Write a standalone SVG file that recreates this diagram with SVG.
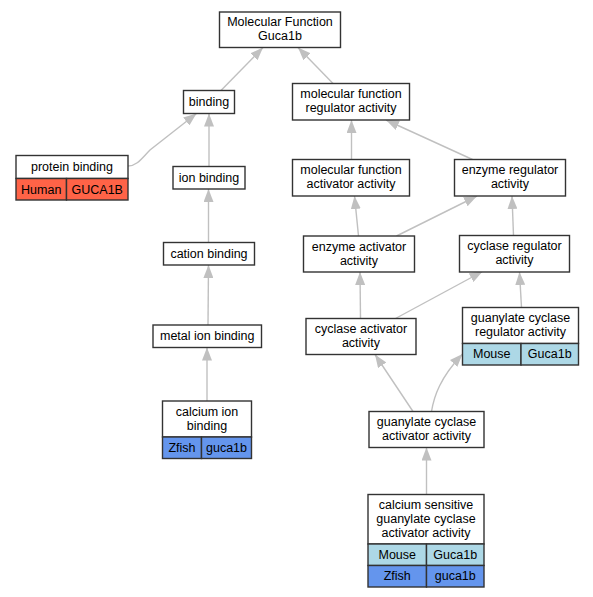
<svg xmlns="http://www.w3.org/2000/svg" width="593" height="597" viewBox="0 0 593 597">
<defs>
<marker id="arr" viewBox="0 0 13 10" refX="13" refY="5" markerWidth="13" markerHeight="10" markerUnits="userSpaceOnUse" orient="auto">
<path d="M0,0 L13,5 L0,10 z" fill="#c0c0c0"/>
</marker>
</defs>
<style>
.box{fill:#ffffff;stroke:#333333;stroke-width:1.4}
.cell{stroke:#333333;stroke-width:1.4}
.human{fill:#ff6347}
.mouse{fill:#add8e6}
.zfish{fill:#6495ed}
text{font-family:"Liberation Sans",Arial,sans-serif;font-size:12.5px;fill:#000000;text-anchor:middle}
.edge{fill:none;stroke:#c0c0c0;stroke-width:1.4;marker-end:url(#arr)}
</style>
<rect width="593" height="597" fill="#ffffff"/>
<g id="edges">
<path class="edge" d="M221,90.5 L263,47.5"/>
<path class="edge" d="M333,83.5 L298,47.5"/>
<path class="edge" d="M128,166 C137,166 142,158 150,150 L196.5,113.5"/>
<path class="edge" d="M209,166.5 L209,113.5"/>
<path class="edge" d="M208.5,242.5 L208.5,189"/>
<path class="edge" d="M208,325 L208.5,265"/>
<path class="edge" d="M207,401 L207,347.5"/>
<path class="edge" d="M351.5,159.5 L351.5,120"/>
<path class="edge" d="M472.5,159.5 L386,120"/>
<path class="edge" d="M358.5,236 L354.5,196"/>
<path class="edge" d="M396.5,236 L477,196"/>
<path class="edge" d="M513.5,235.5 L512,196"/>
<path class="edge" d="M360.5,318.5 L360,272"/>
<path class="edge" d="M395.5,318.5 L482.5,271.5"/>
<path class="edge" d="M521.5,307.5 L519.5,272"/>
<path class="edge" d="M413,411.5 L375,354.5"/>
<path class="edge" d="M431.5,411.5 C434,396 440,378 462.5,354"/>
<path class="edge" d="M426.5,494.5 L426.5,447.5"/>
</g>
<g id="mf">
<rect class="box" x="219.5" y="12" width="121" height="35.5"/>
<text x="280" y="26.25">Molecular Function</text>
<text x="280" y="40.25">Guca1b</text>
</g>
<g id="binding">
<rect class="box" x="183.5" y="90.5" width="51" height="23"/>
<text x="209" y="105.5">binding</text>
</g>
<g id="mf_regulator">
<rect class="box" x="292.5" y="83.5" width="117" height="36.5"/>
<text x="351" y="98.25">molecular function</text>
<text x="351" y="112.25">regulator activity</text>
</g>
<g id="protein_binding">
<rect class="box" x="16" y="155.5" width="112" height="23"/>
<text x="72" y="170.5">protein binding</text>
<rect class="cell human" x="16" y="178.5" width="50.5" height="21.5"/>
<rect class="cell human" x="66.5" y="178.5" width="61.5" height="21.5"/>
<text x="41.25" y="193.5">Human</text>
<text x="97.25" y="193.5">GUCA1B</text>
</g>
<g id="ion_binding">
<rect class="box" x="173" y="166.5" width="72" height="22.5"/>
<text x="209" y="181.5">ion binding</text>
</g>
<g id="mf_activator">
<rect class="box" x="292.5" y="159.5" width="117" height="36.5"/>
<text x="351" y="174.25">molecular function</text>
<text x="351" y="188.25">activator activity</text>
</g>
<g id="enzyme_regulator">
<rect class="box" x="454.5" y="159.5" width="111" height="36.5"/>
<text x="510" y="174.25">enzyme regulator</text>
<text x="510" y="188.25">activity</text>
</g>
<g id="cation_binding">
<rect class="box" x="163.5" y="242.5" width="91" height="22.5"/>
<text x="209" y="257.5">cation binding</text>
</g>
<g id="enzyme_activator">
<rect class="box" x="303.5" y="236" width="111" height="36"/>
<text x="359" y="250.5">enzyme activator</text>
<text x="359" y="264.5">activity</text>
</g>
<g id="cyclase_regulator">
<rect class="box" x="459.5" y="235.5" width="110" height="36.5"/>
<text x="514.5" y="250.25">cyclase regulator</text>
<text x="514.5" y="264.25">activity</text>
</g>
<g id="metal_ion_binding">
<rect class="box" x="153" y="325" width="108.5" height="22.5"/>
<text x="207.25" y="340">metal ion binding</text>
</g>
<g id="cyclase_activator">
<rect class="box" x="306" y="318.5" width="110" height="36"/>
<text x="361" y="333">cyclase activator</text>
<text x="361" y="347">activity</text>
</g>
<g id="gc_regulator">
<rect class="box" x="462.5" y="307.5" width="116" height="36"/>
<text x="520.5" y="322">guanylate cyclase</text>
<text x="520.5" y="336">regulator activity</text>
<rect class="cell mouse" x="462.5" y="343.5" width="58.5" height="21.5"/>
<rect class="cell mouse" x="521" y="343.5" width="57.5" height="21.5"/>
<text x="491.75" y="358">Mouse</text>
<text x="549.75" y="358">Guca1b</text>
</g>
<g id="calcium_ion_binding">
<rect class="box" x="162.5" y="401" width="89" height="36"/>
<text x="207" y="415.5">calcium ion</text>
<text x="207" y="429.5">binding</text>
<rect class="cell zfish" x="162.5" y="437" width="39" height="21.5"/>
<rect class="cell zfish" x="201.5" y="437" width="50" height="21.5"/>
<text x="182" y="452">Zfish</text>
<text x="226.5" y="452">guca1b</text>
</g>
<g id="gc_activator">
<rect class="box" x="369" y="411.5" width="115" height="36"/>
<text x="426.5" y="426">guanylate cyclase</text>
<text x="426.5" y="440">activator activity</text>
</g>
<g id="calcium_sensitive">
<rect class="box" x="368" y="494.5" width="116" height="49.5"/>
<text x="426" y="508.75">calcium sensitive</text>
<text x="426" y="522.75">guanylate cyclase</text>
<text x="426" y="536.75">activator activity</text>
<rect class="cell mouse" x="368" y="544" width="58.5" height="21.5"/>
<rect class="cell mouse" x="426.5" y="544" width="57.5" height="21.5"/>
<text x="397.25" y="558.5">Mouse</text>
<text x="455.25" y="558.5">Guca1b</text>
<rect class="cell zfish" x="368" y="565.5" width="58.5" height="21.5"/>
<rect class="cell zfish" x="426.5" y="565.5" width="57.5" height="21.5"/>
<text x="397.25" y="580">Zfish</text>
<text x="455.25" y="580">guca1b</text>
</g>
</svg>
